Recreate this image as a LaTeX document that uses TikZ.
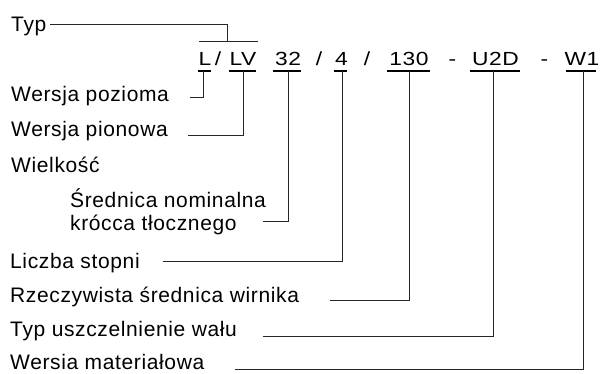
\documentclass[tikz,border=0pt]{standalone}
\usepackage{fontspec}
\setmainfont{Liberation Sans}
\begin{document}
\begin{tikzpicture}[x=1pt,y=-1pt,
  lbl/.style={anchor=base west, inner sep=0pt, font=\fontsize{21}{23}\selectfont\addfontfeature{LetterSpace=3}},
  code/.style={anchor=base, inner sep=0pt, font=\fontsize{19}{22}\selectfont\addfontfeature{FakeStretch=1.2,LetterSpace=3}},
  conn/.style={line width=1pt, black!85},
  uline/.style={line width=1.3pt, black}]
\useasboundingbox (0,0) rectangle (603,374);
% code tokens
\node[code] (cL)   at (205,66) {L};
\node[code] (s1)   at (218,66)   {/};
\node[code] (cLV)  at (243,66) {LV};
\node[code] (c32)  at (288,66)   {32};
\node[code] (s2)   at (319,66)   {/};
\node[code] (c4)   at (341.5,66) {4};
\node[code] (s3)   at (367,66)   {/};
\node[code] (c130) at (409,66) {130};
\node[code] (d1)   at (452.5,66)   {-};
\node[code] (cU)   at (495.5,66)   {U2D};
\node[code] (d2)   at (544.5,66)   {-};
\node[code] (cW)   at (582,66)   {W1};
% underlines
\draw[uline] (198,71) -- (211,71);
\draw[uline] (229,71) -- (256,71);
\draw[uline] (273,71) -- (301,71);
\draw[uline] (334,71) -- (347,71);
\draw[uline] (387,71) -- (430,71);
\draw[uline] (470,71) -- (520,71);
\draw[uline] (566,71) -- (596,71);
% labels
\node[lbl] (typ)  at (11,32)  {Typ};
\node[lbl] (poz)  at (11,102) {Wersja pozioma};
\node[lbl] (pion) at (11,137) {Wersja pionowa};
\node[lbl] (wiel) at (11,173) {Wielkość};
\node[lbl] (sr1)  at (70,208) {Średnica nominalna};
\node[lbl] (sr2)  at (70,231) {krócca tłocznego};
\node[lbl] (licz) at (10,269) {Liczba stopni};
\node[lbl] (rzecz) at (10,303) {Rzeczywista średnica wirnika};
\node[lbl] (usz)  at (10,337) {Typ uszczelnienie wału};
\node[lbl] (mat)  at (10,370) {Wersia materiałowa};
% connector end points
\coordinate (typS) at (50,25);
\coordinate (brk)  at (227,42);
\coordinate (uL)   at (203,71);
\coordinate (uLV)  at (243,71);
\coordinate (u32)  at (288,71);
\coordinate (u4)   at (342,71);
\coordinate (u130) at (409,71);
\coordinate (uU)   at (493,71);
\coordinate (uW)   at (583,71);
\coordinate (pozS) at (190,98);
\coordinate (pionS) at (188,136);
\coordinate (srS)  at (263,222);
\coordinate (liczS) at (163,262);
\coordinate (rzS)  at (330,301);
\coordinate (uszS) at (263,337);
\coordinate (matS) at (235,369);
% connectors
\draw[conn] (typS) -| (brk);
\draw[conn] (199,42) -- (258,42);
\draw[conn] (uL) |- (pozS);
\draw[conn] (uLV) |- (pionS);
\draw[conn] (u32) |- (srS);
\draw[conn] (u4) |- (liczS);
\draw[conn] (u130) |- (rzS);
\draw[conn] (uU) |- (uszS);
\draw[conn] (uW) |- (matS);
\end{tikzpicture}
\end{document}
